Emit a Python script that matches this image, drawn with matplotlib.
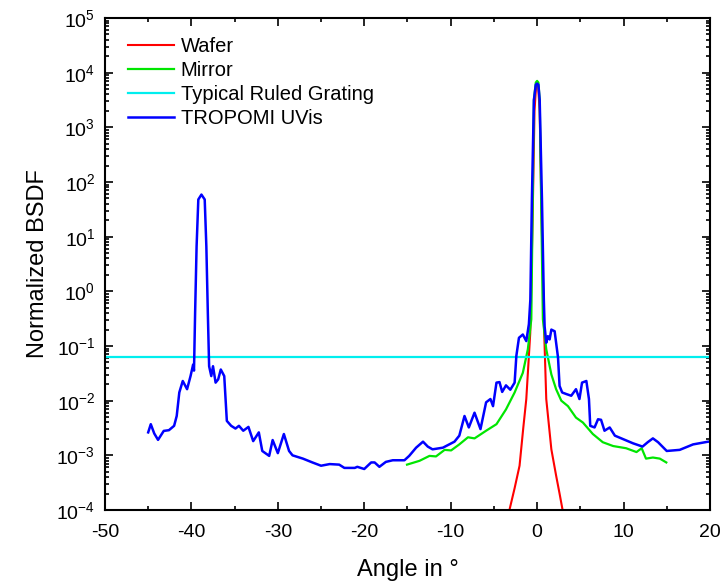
import numpy as np
import matplotlib
matplotlib.use("Agg")
import matplotlib.pyplot as plt
import matplotlib.ticker as mticker

plt.rcParams["font.family"] = ["Liberation Sans", "DejaVu Sans"]
plt.rcParams["mathtext.fontset"] = "custom"
plt.rcParams["mathtext.rm"] = "Liberation Sans"
plt.rcParams["axes.unicode_minus"] = False

# TROPOMI UVis (angle, log10 BSDF)
uvis_x = [-45.0, -44.7, -44.3, -43.86, -43.2, -42.6, -42.0, -41.7, -41.4, -41.0, -40.5,
          -40.1, -39.8, -39.7, -39.57, -39.4, -39.2, -38.84, -38.46, -38.27, -38.1,
          -37.95, -37.7, -37.5, -37.2, -36.9, -36.6, -36.2, -35.9, -35.4, -34.9,
          -34.5, -34.0, -33.4, -32.85, -32.2, -31.8, -31.0, -30.6, -30.0, -29.3,
          -28.7, -28.3, -27.1, -26.0, -25.0, -24.0, -22.9, -22.3, -21.1, -20.8,
          -20.0, -19.2, -18.8, -18.25, -17.5, -16.7, -15.35, -14.8, -14.0, -13.2,
          -12.65, -12.1, -10.9, -9.56, -9.0, -8.4, -7.9, -7.24, -6.55, -5.9, -5.4,
          -5.1, -4.7, -4.35, -4.04, -3.6, -3.1, -2.6, -2.4, -2.1, -1.65, -1.25,
          -0.95, -0.78, -0.6, -0.37, -0.15, 0.0, 0.15, 0.3, 0.56, 0.78, 0.87,
          1.06, 1.25, 1.45, 1.65, 2.03, 2.42, 2.6, 2.9, 3.4, 3.95, 4.5, 4.9, 5.2,
          5.7, 6.0, 6.15, 6.65, 7.05, 7.4, 7.8, 8.4, 9.0, 9.9, 11.1, 12.2, 12.8,
          13.4, 14.0, 15.0, 16.5, 18.05, 19.8, 20.0]
uvis_log = [-2.58, -2.43, -2.6, -2.717, -2.553, -2.54, -2.46, -2.28, -1.85, -1.64, -1.79,
            -1.55, -1.34, -1.45, -0.39, 0.82, 1.68, 1.77, 1.68, 0.82, -0.39,
            -1.37, -1.55, -1.37, -1.67, -1.61, -1.43, -1.55, -2.37, -2.46, -2.51,
            -2.46, -2.55, -2.48, -2.74, -2.58, -2.92, -3.01, -2.72, -2.96, -2.61,
            -2.92, -3.0, -3.06, -3.13, -3.19, -3.16, -3.17, -3.23, -3.23, -3.21,
            -3.25, -3.13, -3.13, -3.21, -3.12, -3.09, -3.09, -3.01, -2.86, -2.75,
            -2.84, -2.89, -2.86, -2.75, -2.64, -2.28, -2.49, -2.22, -2.52, -2.03, -1.97,
            -2.10, -1.67, -1.66, -1.84, -1.72, -1.80, -1.67, -1.18, -0.85, -0.79, -0.91,
            -0.6, -0.15, 1.7, 3.5, 3.78, 3.8, 3.78, 3.5, 1.7, -0.15, -0.64,
            -0.94, -0.82, -0.88, -0.70, -0.73, -1.21, -1.73, -1.85, -1.88, -1.91, -1.79, -1.97, -1.67,
            -1.64, -1.97, -2.46, -2.49, -2.34, -2.35, -2.55, -2.49, -2.64, -2.70, -2.78, -2.84, -2.76,
            -2.69, -2.76, -2.92, -2.90, -2.80, -2.75, -2.75]

# Mirror
mirror_x = [-15.05, -13.6, -12.45, -11.7, -10.7, -9.95, -9.0, -8.0, -7.24, -5.9, -4.7,
            -3.6, -2.6, -1.65, -1.07, -0.67, -0.37, -0.15, 0.0, 0.15, 0.3, 0.67,
            1.06, 1.65, 2.2, 2.8, 3.57, 4.5, 5.3, 6.45, 7.6, 8.8, 10.3, 11.5, 12.1,
            12.6, 13.4, 14.2, 14.95]
mirror_log = [-3.17, -3.10, -3.01, -3.02, -2.90, -2.91, -2.80, -2.67, -2.69, -2.55, -2.43,
              -2.16, -1.85, -1.49, -1.06, -0.51, 3.5, 3.82, 3.85, 3.82, 3.5, -0.51,
              -1.06, -1.52, -1.79, -2.0, -2.10, -2.31, -2.40, -2.61, -2.76, -2.83, -2.87, -2.94, -2.87,
              -3.06, -3.04, -3.06, -3.13]

# Wafer
wafer_x = [-3.2, -2.6, -2.03, -1.6, -1.25, -0.79, -0.5, -0.3, -0.12, 0.0, 0.12, 0.3, 0.5,
           0.79, 1.06, 1.65, 2.2, 2.6, 2.95]
wafer_log = [-4.0, -3.6, -3.19, -2.5, -1.97, -0.76, 1.5, 3.3, 3.75, 3.8, 3.75, 3.3, 1.5,
             -0.6, -1.97, -2.89, -3.37, -3.7, -4.0]

grating_level = 0.062

fig = plt.figure(figsize=(7.22, 5.81), dpi=100)
ax = fig.add_axes([0.1454, 0.1222, 0.8379, 0.8468])

ax.plot(wafer_x, 10 ** np.array(wafer_log), color="#ff0000", lw=1.5, label="Wafer")
ax.plot(mirror_x, 10 ** np.array(mirror_log), color="#00e600", lw=1.6, label="Mirror")
ax.axhline(grating_level, color="#00eeee", lw=1.6, label="Typical Ruled Grating")
ax.plot(uvis_x, 10 ** np.array(uvis_log), color="#0000ff", lw=1.8, label="TROPOMI UVis")

ax.set_yscale("log")
ax.set_xlim(-50, 20)
ax.set_ylim(1e-4, 1e5)
ax.xaxis.set_major_locator(mticker.MultipleLocator(10))
ax.xaxis.set_minor_locator(mticker.MultipleLocator(5))
ax.yaxis.set_major_locator(mticker.LogLocator(base=10, numticks=20))
ax.yaxis.set_minor_locator(mticker.LogLocator(base=10, subs=np.arange(2, 10), numticks=20))
ax.yaxis.set_minor_formatter(mticker.NullFormatter())

ax.tick_params(which="both", direction="in", top=True, right=True, labelsize=14, width=1.2)
ax.tick_params(which="major", length=6)
ax.tick_params(which="minor", length=3)
ax.tick_params(axis="x", which="major", pad=10)
ax.tick_params(axis="y", which="major", pad=7)
for s in ax.spines.values():
    s.set_linewidth(1.5)

ax.set_xlabel("Angle in °", fontsize=17, labelpad=13)
ax.set_ylabel("Normalized BSDF", fontsize=17, labelpad=5)

ax.legend(loc="upper left", frameon=False, fontsize=14.5, handlelength=2.3,
          borderaxespad=0.0, borderpad=0.4, labelspacing=0.25, handletextpad=0.3,
          bbox_to_anchor=(0.025, 0.978))

fig.savefig("out.png", dpi=100)
